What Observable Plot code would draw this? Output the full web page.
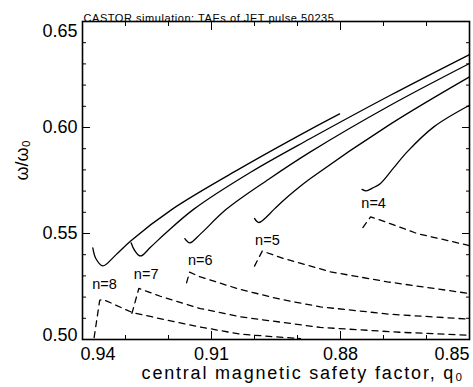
<!DOCTYPE html>
<html><head><meta charset="utf-8">
<script src="https://cdn.jsdelivr.net/npm/d3@7"></script>
<script src="https://cdn.jsdelivr.net/npm/@observablehq/plot@0.6"></script>
<style>
body{margin:0;background:#fff}
#chart svg{font-family:"Liberation Sans",Arial,Helvetica,sans-serif;background:#fff}
</style>
</head><body><div id="chart"></div>
<script>
// ---- texts ----
const titleText = "CASTOR simulation: TAEs of JET pulse 50235";
const xLabel = "central magnetic safety factor, q₀";
const yLabel = "ω/ω₀";

// ---- ticks ----
const xMajor = [0.94, 0.91, 0.88, 0.85];
const xMinor = [0.93, 0.92, 0.90, 0.89, 0.87, 0.86];
const yMajor = [0.50, 0.55, 0.60, 0.65];
const yMinor = [0.51, 0.52, 0.53, 0.54, 0.56, 0.57, 0.58, 0.59, 0.61, 0.62, 0.63, 0.64];

// ---- solid curves (q0, omega/omega0) ----
const n8SolidQ = [0.9376, 0.9369, 0.9353, 0.9323, 0.9288, 0.9191, 0.9033, 0.8870, 0.8802];
const n8SolidW = [0.5432, 0.5382, 0.5347, 0.5398, 0.5465, 0.5615, 0.5807, 0.5991, 0.6064];
const n7SolidQ = [0.9287, 0.9279, 0.9265, 0.9242, 0.9207, 0.9141, 0.9009, 0.8870, 0.8684, 0.8500];
const n7SolidW = [0.5456, 0.5421, 0.5394, 0.5435, 0.5501, 0.5615, 0.5789, 0.5948, 0.6152, 0.6344];
const n6SolidQ = [0.9162, 0.9156, 0.9150, 0.9126, 0.9065, 0.8967, 0.8870, 0.8684, 0.8500];
const n6SolidW = [0.5476, 0.5462, 0.5456, 0.5497, 0.5615, 0.5756, 0.5885, 0.6105, 0.6302];
const n5SolidQ = [0.9000, 0.8990, 0.8954, 0.8932, 0.8905, 0.8870, 0.8684, 0.8500];
const n5SolidW = [0.5571, 0.5552, 0.5615, 0.5657, 0.5704, 0.5759, 0.6016, 0.6239];
const n4SolidQ = [0.8750, 0.8740, 0.8726, 0.8707, 0.8677, 0.8645, 0.8583, 0.8500];
const n4SolidW = [0.5708, 0.5701, 0.5714, 0.5736, 0.5808, 0.5885, 0.6003, 0.6105];

// ---- dashed curves ----
const n8DashQ = [0.9373, 0.9360, 0.9352, 0.9284, 0.9207, 0.9126, 0.9033, 0.8893];
const n8DashW = [0.5009, 0.5185, 0.5189, 0.5127, 0.5093, 0.5059, 0.5025, 0.5004];
const n7DashQ = [0.9285, 0.9269, 0.9219, 0.9126, 0.9033, 0.8847, 0.8661, 0.8500];
const n7DashW = [0.5123, 0.5241, 0.5204, 0.5146, 0.5107, 0.5057, 0.5034, 0.5020];
const n6DashQ = [0.9158, 0.9151, 0.9126, 0.9033, 0.8940, 0.8847, 0.8684, 0.8500];
const n6DashW = [0.5267, 0.5318, 0.5295, 0.5236, 0.5190, 0.5154, 0.5119, 0.5096];
const n5DashQ = [0.9000, 0.8982, 0.8932, 0.8823, 0.8691, 0.8500];
const n5DashW = [0.5346, 0.5417, 0.5382, 0.5319, 0.5272, 0.5217];
const n4DashQ = [0.8748, 0.8730, 0.8707, 0.8622, 0.8500];
const n4DashW = [0.5528, 0.5578, 0.5563, 0.5500, 0.5443];

// ---- mode labels ----
const labelText = ["n=4", "n=5", "n=6", "n=7", "n=8"];
const labelQ = [0.8723, 0.8970, 0.9126, 0.9252, 0.9349];
const labelW = [0.5643, 0.5468, 0.5374, 0.5307, 0.5259];

function rows(name, qs, ws) { return qs.map((q, i) => ({name, q, w: ws[i]})); }
const solid = [
  ...rows("n8", n8SolidQ, n8SolidW), ...rows("n7", n7SolidQ, n7SolidW),
  ...rows("n6", n6SolidQ, n6SolidW), ...rows("n5", n5SolidQ, n5SolidW),
  ...rows("n4", n4SolidQ, n4SolidW)
];
const dashed = [
  ...rows("n8", n8DashQ, n8DashW), ...rows("n7", n7DashQ, n7DashW),
  ...rows("n6", n6DashQ, n6DashW), ...rows("n5", n5DashQ, n5DashW),
  ...rows("n4", n4DashQ, n4DashW)
];
const labels = labelText.map((t, i) => ({t, q: labelQ[i], w: labelW[i]}));

const fmt = d3.format(".2f");
const tickStyle = {fill: "none", label: null, strokeWidth: 1, stroke: "black"};
const lab = {tickSize: 0, fontSize: 18, tickFormat: fmt, label: null, fill: "black"};

const chart = Plot.plot({
  width: 473,
  height: 387,
  marginLeft: 82,
  marginRight: 4,
  marginTop: 21,
  marginBottom: 48,
  x: {domain: [0.94, 0.85]},
  y: {domain: [0.50, 0.65]},
  style: {fontFamily: "Liberation Sans, Arial, Helvetica, sans-serif", color: "black"},
  marks: [
    Plot.line(solid, {x: "q", y: "w", z: "name", stroke: "black", strokeWidth: 1.3, curve: "catmull-rom"}),
    Plot.line(dashed, {x: "q", y: "w", z: "name", stroke: "black", strokeWidth: 1.3, strokeDasharray: "6,5", curve: "linear"}),
    Plot.text(labels, {x: "q", y: "w", text: "t", fontSize: 14.5, fill: "black"}),
    // ticks (inward)
    Plot.axisX(xMajor, {anchor: "bottom", tickSize: -8, ...tickStyle}),
    Plot.axisX(xMinor, {anchor: "bottom", tickSize: -4, ...tickStyle}),
    Plot.axisX(xMajor, {anchor: "top", tickSize: -8, ...tickStyle}),
    Plot.axisX(xMinor, {anchor: "top", tickSize: -4, ...tickStyle}),
    Plot.axisY(yMajor, {anchor: "left", tickSize: -8, ...tickStyle}),
    Plot.axisY(yMinor, {anchor: "left", tickSize: -4, ...tickStyle}),
    Plot.axisY(yMajor, {anchor: "right", tickSize: -8, ...tickStyle}),
    Plot.axisY(yMinor, {anchor: "right", tickSize: -4, ...tickStyle}),
    // tick labels
    Plot.axisX(xMajor.slice(1, 3), {anchor: "bottom", tickPadding: 8, ...lab}),
    Plot.axisX(xMajor.slice(0, 1), {anchor: "bottom", tickPadding: 8, textAnchor: "start", dx: -2, ...lab}),
    Plot.axisX(xMajor.slice(3), {anchor: "bottom", tickPadding: 8, textAnchor: "end", ...lab}),
    Plot.axisY(yMajor.slice(1, 3), {anchor: "left", tickPadding: 5, ...lab}),
    Plot.axisY(yMajor.slice(0, 1), {anchor: "left", tickPadding: 5, dy: -4, ...lab}),
    Plot.axisY(yMajor.slice(3), {anchor: "left", tickPadding: 5, dy: 10, ...lab}),
    Plot.frame({stroke: "black", strokeWidth: 1.6}),
    // titles
    Plot.text([titleText], {frameAnchor: "top-left", textAnchor: "start", dy: -7.5, dx: 1, fontSize: 11, fill: "black"}),
    Plot.text([xLabel], {frameAnchor: "bottom", dy: 39, dx: 27, fontSize: 18, fill: "black"}),
    Plot.text([yLabel], {frameAnchor: "left", rotate: -90, dx: -60, fontSize: 18, fill: "black"})
  ]
});
const sel = d3.select(chart);
sel.selectAll("text").filter(function() { return this.textContent === xLabel; }).attr("letter-spacing", "1.8px");
sel.selectAll("text").filter(function() { return this.textContent === titleText; }).attr("letter-spacing", "0.55px");
document.getElementById("chart").appendChild(chart);
</script>
</body></html>
